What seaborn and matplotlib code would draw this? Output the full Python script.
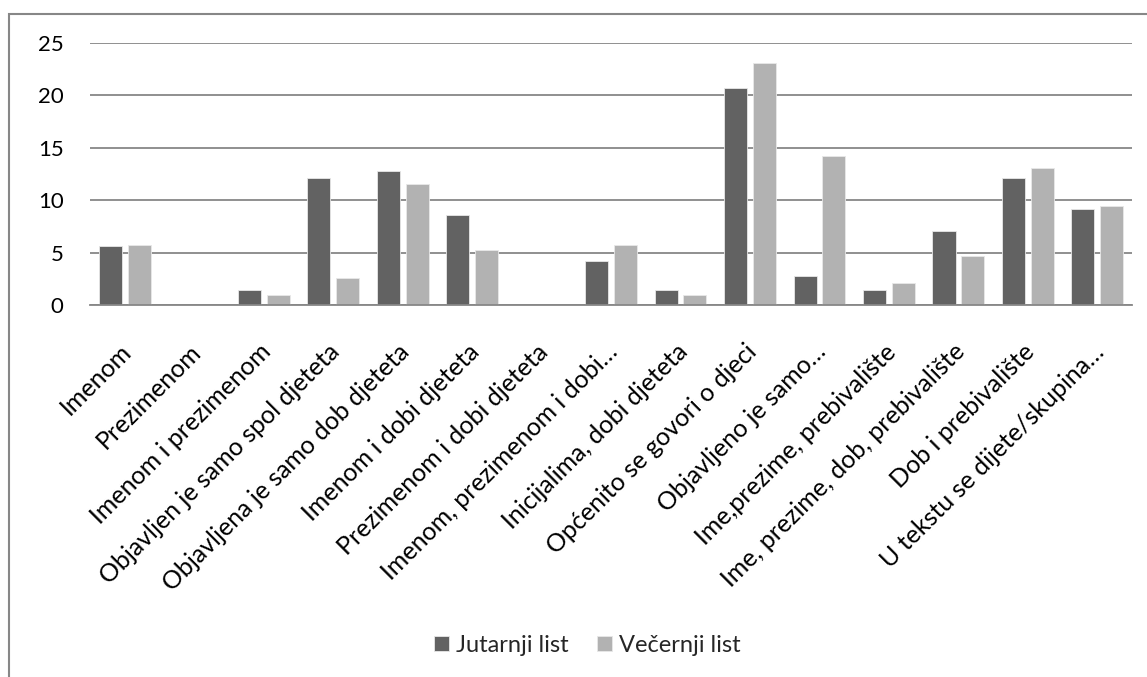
import pandas as pd
import matplotlib.pyplot as plt
import matplotlib.transforms as mtransforms
import seaborn as sns
from matplotlib.patches import Rectangle

# Data
categories = [
    'Imenom', 'Prezimenom', 'Imenom i prezimenom', 'Objavljen je samo spol djeteta',
    'Objavljena je samo dob djeteta', 'Imenom i dobi djeteta', 'Prezimenom i dobi djeteta',
    'Imenom, prezimenom i dobi…', 'Inicijalima, dobi djeteta', 'Općenito se govori o djeci',
    'Objavljeno je samo…', 'Ime,prezime, prebivalište', 'Ime, prezime, dob, prebivalište',
    'Dob i prebivalište', 'U tekstu se dijete/skupina…',
]
jutarnji = [5.65, 0, 1.39, 12.1, 12.8, 8.54, 0, 4.22, 1.39, 20.7, 2.8, 1.39, 7.1, 12.1, 9.2]
vecernji = [5.75, 0, 0.98, 2.6, 11.53, 5.24, 0, 5.75, 0.98, 23.1, 14.2, 2.06, 4.7, 13.1, 9.44]
series = ['Jutarnji list', 'Večernji list']

df = pd.DataFrame({
    'kategorija': categories * 2,
    'vrijednost': jutarnji + vecernji,
    'novine': [series[0]] * len(categories) + [series[1]] * len(categories),
})

sns.set_style('white')
plt.rcParams['font.family'] = ['Lato', 'DejaVu Sans']

fig = plt.figure(figsize=(11.47, 6.77), dpi=100)
ax = fig.add_axes([0.0785, 0.5495, 0.9085, 0.387])

sns.barplot(data=df, x='kategorija', y='vrijednost', hue='novine',
            palette=['#626262', '#b2b2b2'], width=0.83, gap=0.2,
            edgecolor='#e8e8e8', linewidth=0.6, ax=ax)

ax.set_ylim(0, 25)
ax.set_xlim(-0.5, len(categories) - 0.5)
ax.set_yticks([0, 5, 10, 15, 20, 25])
ax.yaxis.grid(True, color='#878787', linewidth=1.3)
ax.set_axisbelow(True)
for s in ['left', 'right', 'top']:
    ax.spines[s].set_visible(False)
ax.spines['bottom'].set_color('#878787')
ax.spines['bottom'].set_linewidth(1.3)
ax.tick_params(axis='y', length=0, labelsize=16, colors='black', pad=19)
ax.tick_params(axis='x', length=0, labelsize=18, colors='black', pad=0)
ax.set_xlabel('')
ax.set_ylabel('')

# rotated labels, right end placed a bit below and right of the category centre
shift = mtransforms.ScaledTranslation(0.03, -0.43, fig.dpi_scale_trans)
for lab in ax.get_xticklabels():
    lab.set_rotation(45)
    lab.set_ha('right')
    lab.set_va('center')
    lab.set_rotation_mode('anchor')
    lab.set_transform(lab.get_transform() + shift)

ax.legend(loc='center', bbox_to_anchor=(0.512, 0.047), bbox_transform=fig.transFigure,
          ncol=2, frameon=False, fontsize=17, handlelength=0.65, handleheight=0.65,
          handletextpad=0.3, columnspacing=1.2)

fig.patches.append(Rectangle((0.0078, -0.01), 1.0, 0.989, transform=fig.transFigure,
                             fill=False, edgecolor='#878787', linewidth=1.5))

fig.savefig('out.png', dpi=100)
